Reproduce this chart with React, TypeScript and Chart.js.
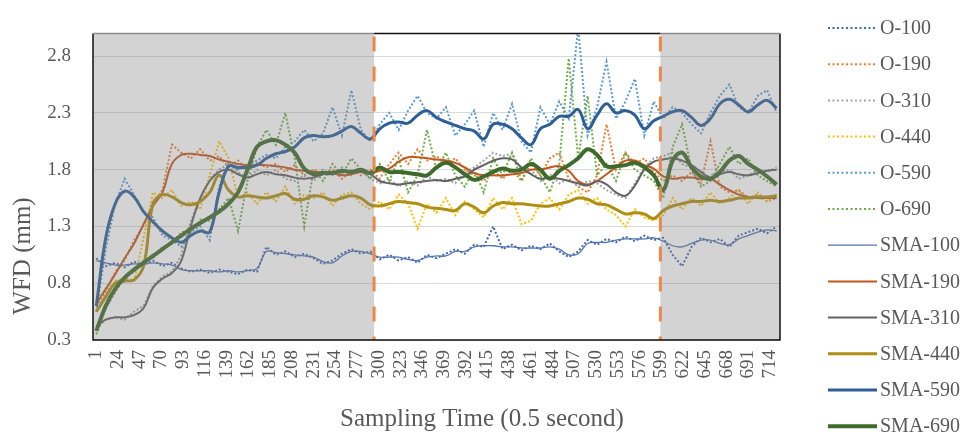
import React, { useEffect, useRef } from "react";
import { Chart, registerables } from "chart.js";

Chart.register(...registerables);

// ---- data ----
const sampleTimes = [
  1, 11, 21, 31, 41, 51, 61, 71, 81, 91,
  101, 111, 121, 131, 141, 151, 161, 171, 181, 191,
  201, 211, 221, 231, 241, 251, 261, 271, 281, 291,
  301, 311, 321, 331, 341, 351, 361, 371, 381, 391,
  401, 411, 421, 431, 441, 451, 461, 471, 481, 491,
  501, 511, 521, 531, 541, 551, 561, 571, 581, 591,
  601, 611, 621, 631, 641, 651, 661, 671, 681, 691,
  701, 711, 721,
];

const xTickLabels = [
  1, 24, 47, 70, 93, 116, 139, 162, 185, 208, 231, 254, 277, 300, 323, 346,
  369, 392, 415, 438, 461, 484, 507, 530, 553, 576, 599, 622, 645, 668, 691, 714,
];
const yTickLabels = [0.3, 0.8, 1.3, 1.8, 2.3, 2.8];
const phaseBreaks = [295, 598];
const xTitle = "Sampling Time (0.5 second)";
const yTitle = "WFD (mm)";

const o100 = [
  1.02, 0.95, 0.98, 0.94, 0.99, 0.96, 1.0, 0.95, 0.98, 0.93,
  0.9, 0.92, 0.89, 0.92, 0.9, 0.88, 0.92, 0.9, 1.12, 1.05,
  1.08, 1.03, 1.06, 1.02, 0.97, 1.0, 1.06, 1.1, 1.06, 1.08,
  1.01, 1.05, 1.0, 1.03, 0.98, 1.05, 1.02, 1.06, 1.1, 1.06,
  1.14, 1.12, 1.3, 1.1, 1.14, 1.09, 1.13, 1.1, 1.15, 1.08,
  1.03, 1.08, 1.18, 1.14, 1.19, 1.16, 1.21, 1.17, 1.22, 1.18,
  1.2, 1.05, 0.95, 1.12, 1.2, 1.16, 1.19, 1.12, 1.22, 1.25,
  1.28, 1.24, 1.3,
];
const o190 = [
  0.6, 0.72, 0.9, 1.0, 1.18, 1.3, 1.5, 1.62, 2.02, 1.95,
  1.9, 1.98, 1.88, 1.92, 1.82, 1.88, 1.8, 1.86, 1.82, 1.85,
  1.78, 1.84, 1.75, 1.8, 1.76, 1.8, 1.72, 1.8, 1.75, 1.8,
  1.72, 1.85, 1.95, 1.85, 1.98, 1.88, 1.92, 1.85, 1.9, 1.8,
  1.75, 1.7, 1.8, 1.72, 1.8, 1.7, 1.85, 1.75, 1.9, 1.95,
  1.72, 1.65, 1.6, 1.75, 2.2, 1.8, 1.95, 1.85, 1.9, 1.78,
  1.7, 1.75, 1.7, 1.78, 1.68, 2.05, 1.65, 1.6, 1.62, 1.55,
  1.58, 1.52, 1.55,
];
const o310 = [
  0.4, 0.48, 0.5, 0.48, 0.55, 0.6, 0.78, 0.86, 0.9, 1.05,
  1.35, 1.55, 1.72, 1.8, 1.85, 1.78, 1.72, 1.8, 1.75, 1.8,
  1.72, 1.7, 1.75, 1.7, 1.8, 1.75, 1.82, 1.75, 1.8, 1.72,
  1.68, 1.72, 1.65, 1.7, 1.66, 1.74, 1.7, 1.72, 1.68, 1.78,
  1.82, 1.88, 1.95, 1.92, 1.94, 1.8, 1.8, 1.7, 1.76, 1.68,
  1.72, 1.65, 1.7, 1.68, 1.62, 1.58, 1.55, 1.68, 1.82, 1.9,
  1.92, 1.95, 1.85, 1.82, 1.72, 1.75, 1.78, 1.8, 1.72, 1.75,
  1.8, 1.78, 1.82,
];
const o440 = [
  0.55, 0.7, 0.82, 0.85, 0.82, 1.2, 1.6, 1.55, 1.62, 1.48,
  1.52, 1.45, 1.75, 2.05, 1.9, 1.55, 1.6, 1.5, 1.6, 1.52,
  1.65, 1.5, 1.58, 1.55, 1.6, 1.48, 1.58, 1.6, 1.5, 1.45,
  1.52, 1.45, 1.58, 1.5, 1.28, 1.5, 1.42, 1.55, 1.4, 1.52,
  1.45, 1.38, 1.55, 1.45, 1.55, 1.32, 1.35, 1.5, 1.55, 1.45,
  1.58, 1.62, 1.5, 1.55, 1.45, 1.4, 1.3, 1.45, 1.38, 1.35,
  1.4, 1.55, 1.45, 1.55, 1.48, 1.6, 1.5, 1.55, 1.62, 1.5,
  1.6, 1.52, 1.58,
];
const o590 = [
  0.55, 1.1, 1.5, 1.72, 1.58, 1.42, 1.38, 1.22, 1.18, 1.12,
  1.25, 1.3, 1.18, 1.65, 1.86, 1.8, 1.84, 1.88, 1.93, 1.9,
  2.0, 2.05, 2.15, 2.05, 2.12, 2.35, 2.1, 2.5, 2.15, 2.05,
  2.2, 2.3, 2.15, 2.32, 2.45, 2.3, 2.25, 2.35, 2.1, 2.2,
  2.32, 2.0, 2.3, 2.15, 2.38, 2.05, 1.95, 2.35, 2.2, 2.4,
  2.25, 3.05, 2.1, 2.35, 2.75, 2.25, 2.4, 2.6, 2.1, 2.4,
  2.25, 2.35, 2.3, 2.2, 2.12, 2.3, 2.45, 2.55, 2.35, 2.3,
  2.45, 2.5, 2.3,
];
const o690 = [
  0.35, 0.58, 0.72, 0.86, 0.9, 1.0, 1.02, 1.12, 1.15, 1.25,
  1.25, 1.36, 1.35, 1.45, 1.55, 1.26, 1.7, 2.0, 2.15, 2.02,
  2.3, 1.9, 1.3, 1.8, 1.7, 1.85, 1.75, 1.9, 1.8, 1.72,
  1.85, 1.7, 1.9, 1.6, 1.75, 2.15, 1.8, 1.95, 1.75, 1.65,
  1.8, 1.6, 1.9, 1.75, 1.95, 1.7, 1.9, 1.75, 1.6, 1.85,
  2.78, 1.9, 2.45, 1.75, 1.85, 1.7, 1.95, 1.8, 1.75, 1.7,
  1.55, 2.0, 2.2, 1.8, 1.65, 1.7, 1.85, 2.0, 1.85, 1.9,
  1.75, 1.7, 1.65,
];
const sma100 = [
  1.0, 0.98, 0.96, 0.96, 0.97, 0.97, 0.98, 0.97, 0.96, 0.92,
  0.91, 0.91, 0.91, 0.9, 0.91, 0.9, 0.91, 0.93, 1.08, 1.07,
  1.06, 1.05, 1.04, 1.03, 0.99, 0.98, 1.04, 1.08, 1.08, 1.06,
  1.03, 1.03, 1.03, 1.01, 1.0, 1.03, 1.04, 1.04, 1.08, 1.08,
  1.12, 1.13, 1.13, 1.12, 1.12, 1.11, 1.11, 1.11, 1.12, 1.1,
  1.05, 1.06, 1.15, 1.16, 1.16, 1.18, 1.19, 1.19, 1.19, 1.2,
  1.17, 1.13, 1.12, 1.15, 1.18, 1.18, 1.15, 1.14, 1.19, 1.22,
  1.25, 1.27, 1.26,
];
const sma190 = [
  0.62, 0.75, 0.88, 1.02, 1.15, 1.32, 1.48, 1.6, 1.85, 1.93,
  1.94, 1.93, 1.92, 1.89, 1.87, 1.85, 1.84, 1.84, 1.84, 1.83,
  1.82, 1.8, 1.79, 1.78, 1.78, 1.77, 1.75, 1.76, 1.78, 1.77,
  1.79, 1.81, 1.87, 1.91, 1.91, 1.9, 1.89, 1.88, 1.86, 1.82,
  1.77, 1.75, 1.75, 1.75, 1.76, 1.77, 1.8, 1.8, 1.82, 1.83,
  1.79, 1.7, 1.67, 1.7, 1.76, 1.82, 1.88, 1.88, 1.84, 1.81,
  1.74, 1.72, 1.73, 1.73, 1.72, 1.72, 1.67, 1.62, 1.58, 1.56,
  1.55, 1.55, 1.55,
];
const sma310 = [
  0.42, 0.48, 0.5, 0.5, 0.52, 0.58, 0.76, 0.84, 0.89, 1.0,
  1.3, 1.55, 1.7, 1.78, 1.8, 1.76, 1.73, 1.76, 1.78, 1.76,
  1.75, 1.73, 1.72, 1.73, 1.76, 1.77, 1.78, 1.79, 1.78, 1.76,
  1.7, 1.68, 1.67, 1.68, 1.69, 1.7, 1.71, 1.7, 1.72, 1.74,
  1.8, 1.84, 1.88, 1.9, 1.89, 1.82, 1.76, 1.72, 1.73, 1.72,
  1.7, 1.68, 1.66, 1.7, 1.67, 1.6, 1.57, 1.66, 1.8, 1.87,
  1.89, 1.9, 1.88, 1.84, 1.78, 1.73, 1.76, 1.78, 1.76, 1.75,
  1.77, 1.79, 1.8,
];
const sma440 = [
  0.55, 0.68, 0.8, 0.82, 0.83, 0.95, 1.5, 1.58, 1.56, 1.51,
  1.49, 1.52, 1.6, 1.75, 1.62, 1.56, 1.57, 1.56, 1.55, 1.57,
  1.59, 1.54, 1.54, 1.57, 1.56, 1.53, 1.55, 1.57, 1.55, 1.49,
  1.48, 1.5, 1.52, 1.51, 1.5, 1.47, 1.46, 1.45, 1.44, 1.5,
  1.47, 1.42, 1.48, 1.51, 1.5, 1.5, 1.49, 1.48, 1.48, 1.5,
  1.52, 1.55, 1.54, 1.5, 1.49, 1.45, 1.41, 1.42, 1.41, 1.37,
  1.44, 1.48, 1.5, 1.52, 1.52, 1.53, 1.52, 1.53, 1.55, 1.55,
  1.56, 1.56, 1.57,
];
const sma590 = [
  0.6, 1.2, 1.5, 1.61, 1.56, 1.43, 1.34, 1.26, 1.2, 1.16,
  1.22, 1.26, 1.25, 1.6, 1.83, 1.82, 1.82, 1.84, 1.9, 1.94,
  1.96, 2.0, 2.08, 2.1, 2.09, 2.1, 2.14, 2.18, 2.12, 2.07,
  2.16, 2.21, 2.22, 2.21, 2.28, 2.32, 2.26, 2.22, 2.19, 2.16,
  2.14, 2.07, 2.2, 2.2, 2.16, 2.08, 2.02, 2.16, 2.2, 2.27,
  2.27, 2.33, 2.16, 2.28, 2.38, 2.3, 2.32, 2.28, 2.16, 2.23,
  2.27, 2.31, 2.32, 2.26, 2.19, 2.25, 2.38, 2.42, 2.37, 2.31,
  2.37, 2.41, 2.34,
];
const sma690 = [
  0.38, 0.6, 0.75, 0.85, 0.92, 0.98, 1.04, 1.1, 1.16, 1.22,
  1.28, 1.33, 1.38, 1.43, 1.5, 1.6, 1.8, 2.0, 2.05, 2.06,
  2.02, 1.95, 1.81, 1.76, 1.77, 1.77, 1.79, 1.78, 1.8, 1.77,
  1.82, 1.78, 1.78, 1.77, 1.76, 1.75, 1.82, 1.86, 1.82, 1.76,
  1.71, 1.74, 1.78, 1.81, 1.79, 1.8, 1.85, 1.8, 1.72, 1.79,
  1.84, 1.9, 1.98, 1.93, 1.83, 1.83, 1.84, 1.86, 1.82, 1.75,
  1.62, 1.88, 1.95, 1.82, 1.74, 1.72, 1.78, 1.88, 1.92, 1.85,
  1.8, 1.74, 1.67,
];

type SeriesDef = {
  label: string;
  values: number[];
  color: string;
  width: number;
  dotted: boolean;
  order: number;
};

const seriesDefs: SeriesDef[] = [
  { label: "O-100", values: o100, color: "#4068b4", width: 2, dotted: true, order: 11 },
  { label: "O-190", values: o190, color: "#ed7d31", width: 2, dotted: true, order: 10 },
  { label: "O-310", values: o310, color: "#a5a5a5", width: 2, dotted: true, order: 9 },
  { label: "O-440", values: o440, color: "#ffc000", width: 2, dotted: true, order: 8 },
  { label: "O-590", values: o590, color: "#5b9bd5", width: 2, dotted: true, order: 7 },
  { label: "O-690", values: o690, color: "#70ad47", width: 2, dotted: true, order: 6 },
  { label: "SMA-100", values: sma100, color: "#5275ad", width: 1.3, dotted: false, order: 5 },
  { label: "SMA-190", values: sma190, color: "#c0581e", width: 2, dotted: false, order: 4 },
  { label: "SMA-310", values: sma310, color: "#626262", width: 2, dotted: false, order: 3 },
  { label: "SMA-440", values: sma440, color: "#ae8f14", width: 3, dotted: false, order: 2 },
  { label: "SMA-590", values: sma590, color: "#2d5e98", width: 3, dotted: false, order: 1 },
  { label: "SMA-690", values: sma690, color: "#3e6b2b", width: 4, dotted: false, order: 0 },
];

const FONT = '"Liberation Serif", "Times New Roman", serif';
const TEXT = "#595959";

const phasePlugin = {
  id: "phases",
  afterDatasetsDraw(chart: any) {
    const { ctx, chartArea: a, scales } = chart;
    const x = scales.x;
    const b1 = x.getPixelForValue(phaseBreaks[0]);
    const b2 = x.getPixelForValue(phaseBreaks[1]);
    ctx.save();
    ctx.fillStyle = "rgba(128,128,128,0.35)";
    ctx.fillRect(a.left, a.top, b1 - a.left, a.bottom - a.top);
    ctx.fillRect(b2, a.top, a.right - b2, a.bottom - a.top);

    ctx.strokeStyle = "#e9894a";
    ctx.lineWidth = 3;
    ctx.setLineDash([15, 15]);
    [b1, b2].forEach((b) => {
      ctx.beginPath();
      ctx.moveTo(b, a.top + 3);
      ctx.lineTo(b, a.bottom);
      ctx.stroke();
    });
    ctx.setLineDash([]);

    // frame
    ctx.lineWidth = 1.5;
    ctx.strokeStyle = "#111";
    ctx.beginPath();
    ctx.moveTo(a.left, a.top);
    ctx.lineTo(a.left, a.bottom);
    ctx.lineTo(a.right, a.bottom);
    ctx.lineTo(a.right, a.top);
    ctx.stroke();
    ctx.strokeStyle = "#8c8c8c";
    ctx.beginPath();
    ctx.moveTo(a.left, a.top);
    ctx.lineTo(b1, a.top);
    ctx.moveTo(b2, a.top);
    ctx.lineTo(a.right, a.top);
    ctx.stroke();
    ctx.strokeStyle = "#111";
    ctx.beginPath();
    ctx.moveTo(b1, a.top);
    ctx.lineTo(b2, a.top);
    ctx.stroke();
    ctx.restore();
  },
};

const legendPlugin = {
  id: "sideLegend",
  afterDraw(chart: any) {
    const { ctx } = chart;
    ctx.save();
    // axis titles
    ctx.fillStyle = TEXT;
    ctx.font = `25px ${FONT}`;
    ctx.textAlign = "center";
    ctx.textBaseline = "middle";
    ctx.fillText(xTitle, 482, 419);
    ctx.save();
    ctx.translate(23, 256);
    ctx.rotate(-Math.PI / 2);
    ctx.fillText(yTitle, 0, 0);
    ctx.restore();

    // legend
    ctx.font = `20px ${FONT}`;
    ctx.textBaseline = "middle";
    ctx.textAlign = "left";
    seriesDefs.forEach((s, i) => {
      const y = 28 + i * 36.2;
      ctx.strokeStyle = s.color;
      ctx.lineWidth = s.width;
      ctx.setLineDash(s.dotted ? [2, 2.5] : []);
      ctx.beginPath();
      ctx.moveTo(828, y);
      ctx.lineTo(877, y);
      ctx.stroke();
      ctx.setLineDash([]);
      ctx.fillStyle = TEXT;
      ctx.fillText(s.label, 880, y + 1);
    });
    ctx.restore();
  },
};

export default function App() {
  const ref = useRef<HTMLCanvasElement | null>(null);

  useEffect(() => {
    if (!ref.current) return;
    Chart.defaults.font.family = FONT;
    const datasets = seriesDefs.map((s) => ({
      label: s.label,
      data: sampleTimes.map((t, i) => ({ x: t, y: s.values[i] })),
      borderColor: s.color,
      backgroundColor: s.color,
      borderWidth: s.width,
      borderDash: s.dotted ? [2, 2] : [],
      pointRadius: 0,
      tension: s.dotted ? 0 : 0.4,
      order: s.order,
      fill: false,
    }));

    const chart = new Chart(ref.current, {
      type: "line",
      data: { datasets },
      plugins: [phasePlugin, legendPlugin],
      options: {
        animation: false,
        responsive: false,
        devicePixelRatio: 1,
        layout: { padding: { top: 12, right: 183, left: 0, bottom: 0 } },
        plugins: {
          legend: { display: false },
          tooltip: { enabled: false },
        },
        scales: {
          x: {
            type: "linear",
            min: -2.5,
            max: 724.6,
            afterBuildTicks: (scale: any) => {
              scale.ticks = xTickLabels.map((v) => ({ value: v }));
            },
            afterFit: (scale: any) => {
              scale.height = 94;
            },
            grid: { display: false, drawTicks: false },
            border: { display: false },
            ticks: {
              autoSkip: false,
              minRotation: 90,
              maxRotation: 90,
              padding: 10,
              color: TEXT,
              font: { size: 19, family: FONT },
              callback: (v: any) => String(v),
            },
            title: { display: false },
          },
          y: {
            type: "linear",
            min: 0.3,
            max: 3.0,
            afterBuildTicks: (scale: any) => {
              scale.ticks = yTickLabels.map((v) => ({ value: v }));
            },
            afterFit: (scale: any) => {
              scale.width = 93;
            },
            grid: { color: "#d9d9d9", lineWidth: 1, drawTicks: false },
            border: { display: false },
            ticks: {
              padding: 22,
              color: TEXT,
              font: { size: 19, family: FONT },
              callback: (v: any) => Number(v).toFixed(1),
            },
            title: { display: false },
          },
        },
      },
    });
    return () => chart.destroy();
  }, []);

  return (
    <div style={{ position: "absolute", left: 0, top: 0, width: 963, height: 434, background: "#fff" }}>
      <canvas ref={ref} width={963} height={434} style={{ width: 963, height: 434, display: "block" }} />
    </div>
  );
}
